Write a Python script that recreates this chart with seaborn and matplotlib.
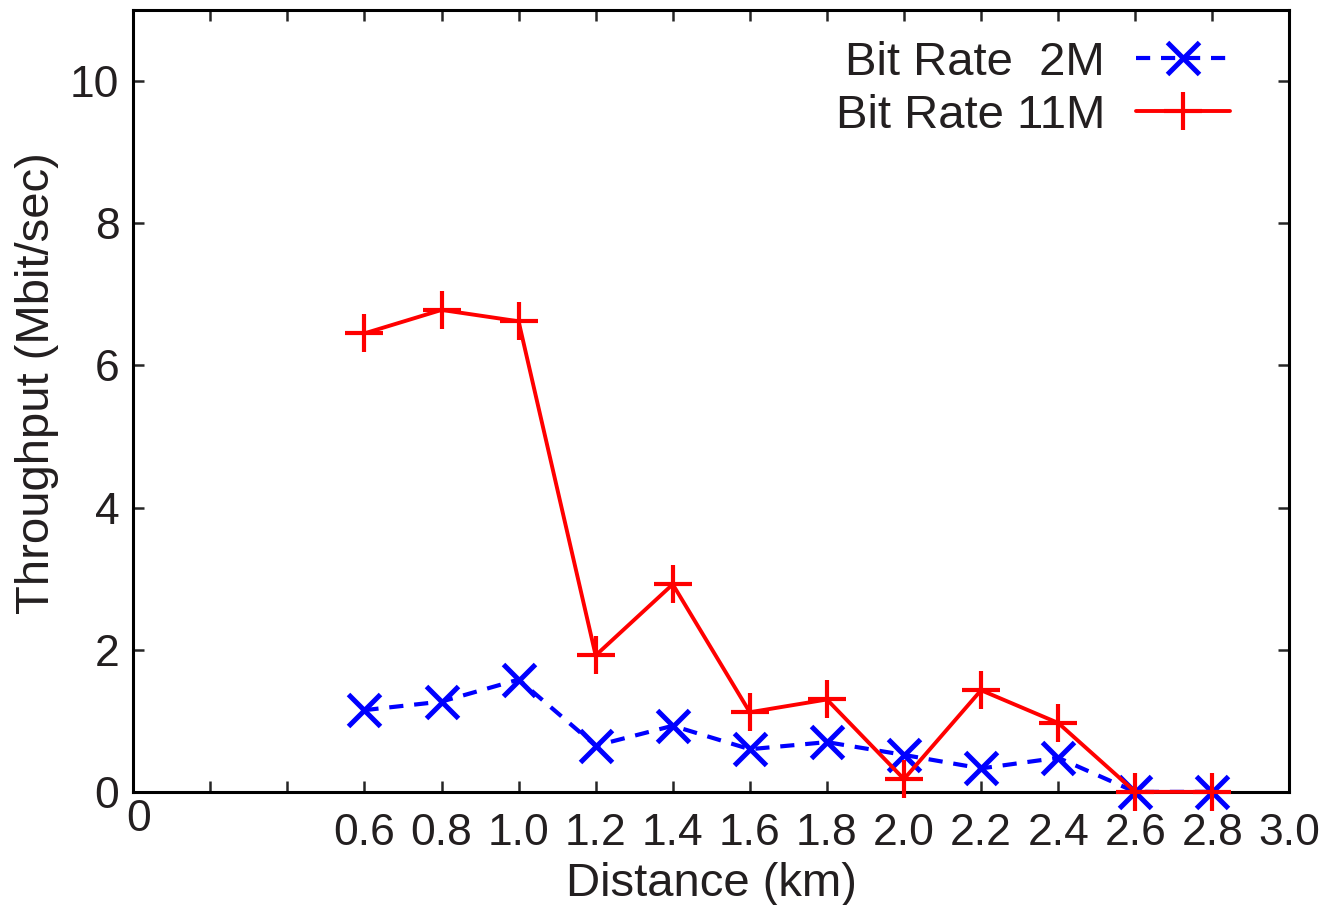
import matplotlib
matplotlib.use("Agg")
import matplotlib.pyplot as plt
import seaborn as sns
import pandas as pd

# distance (km) and throughput (Mbit/sec)
distance = [0.6, 0.8, 1.0, 1.2, 1.4, 1.6, 1.8, 2.0, 2.2, 2.4, 2.6, 2.8]
rate_2m = [1.15, 1.27, 1.58, 0.65, 0.93, 0.60, 0.70, 0.52, 0.33, 0.48, 0.0, 0.0]
rate_11m = [6.45, 6.78, 6.62, 1.92, 2.92, 1.12, 1.30, 0.18, 1.43, 0.97, 0.0, 0.0]
labels = ["Bit Rate  2M", "Bit Rate 11M"]

x_ticks = [0.2, 0.4, 0.6, 0.8, 1.0, 1.2, 1.4, 1.6, 1.8, 2.0, 2.2, 2.4, 2.6, 2.8, 3.0]
x_tick_labels = ["", "", "0.6", "0.8", "1.0", "1.2", "1.4", "1.6", "1.8", "2.0",
                 "2.2", "2.4", "2.6", "2.8", "3.0"]
y_ticks = [0, 2, 4, 6, 8, 10]

df = pd.DataFrame({"distance": distance, "2M": rate_2m, "11M": rate_11m})

sns.set_style("ticks")
plt.rcParams["font.family"] = ["Liberation Sans", "DejaVu Sans"]
text_col = "#231f20"
fs_tick = 32
fs_label = 34

fig = plt.figure(figsize=(13.32, 9.05), dpi=100)
ax = fig.add_axes([0.1, 0.125, 0.868, 0.864])

sns.lineplot(data=df, x="distance", y="2M", ax=ax, color="#0000ff", legend=False)
sns.lineplot(data=df, x="distance", y="11M", ax=ax, color="#ff0000", legend=False)

# seaborn draws marker edges white, so style the drawn lines directly
blue, red = ax.lines[0], ax.lines[1]
blue.set_linestyle((0, (3.4, 2.6)))
blue.set_linewidth(3)
blue.set_marker("x")
blue.set_markersize(23)
blue.set_markeredgewidth(3.6)
blue.set_markeredgecolor("#0000ff")
blue.set_zorder(2)
red.set_linestyle("-")
red.set_linewidth(2.8)
red.set_marker("+")
red.set_markersize(28)
red.set_markeredgewidth(3)
red.set_markeredgecolor("#ff0000")
red.set_zorder(3)
for ln in (blue, red):
    ln.set_clip_on(False)

ax.set_xlim(0, 3.0)
ax.set_ylim(0, 11)
ax.set_xticks(x_ticks)
ax.set_xticklabels(x_tick_labels)
ax.set_yticks(y_ticks)
ax.text(0.015, -0.1, "0", transform=ax.transData, ha="center", va="top",
        fontsize=fs_tick, color=text_col)

ax.tick_params(axis="both", direction="in", length=8, width=1.8,
               labelsize=fs_tick, labelcolor=text_col, top=True, right=True)
ax.tick_params(axis="x", pad=15)
ax.tick_params(axis="y", pad=10)
for spine in ax.spines.values():
    spine.set_visible(True)
    spine.set_linewidth(2.2)
    spine.set_color("black")

ax.set_xlabel("Distance (km)", fontsize=fs_label, labelpad=6, color=text_col)
ax.set_ylabel("Throughput (Mbit/sec)", fontsize=fs_label, color=text_col)
ax.yaxis.set_label_coords(-0.064, 0.523)

ax.legend([blue, red], labels, loc="upper right", bbox_to_anchor=(0.965, 0.985),
          borderaxespad=0, frameon=False, fontsize=fs_label,
          markerfirst=False, handlelength=2.0, handletextpad=0.65,
          labelspacing=0.2, labelcolor=text_col)

fig.savefig("out.png", dpi=100)
